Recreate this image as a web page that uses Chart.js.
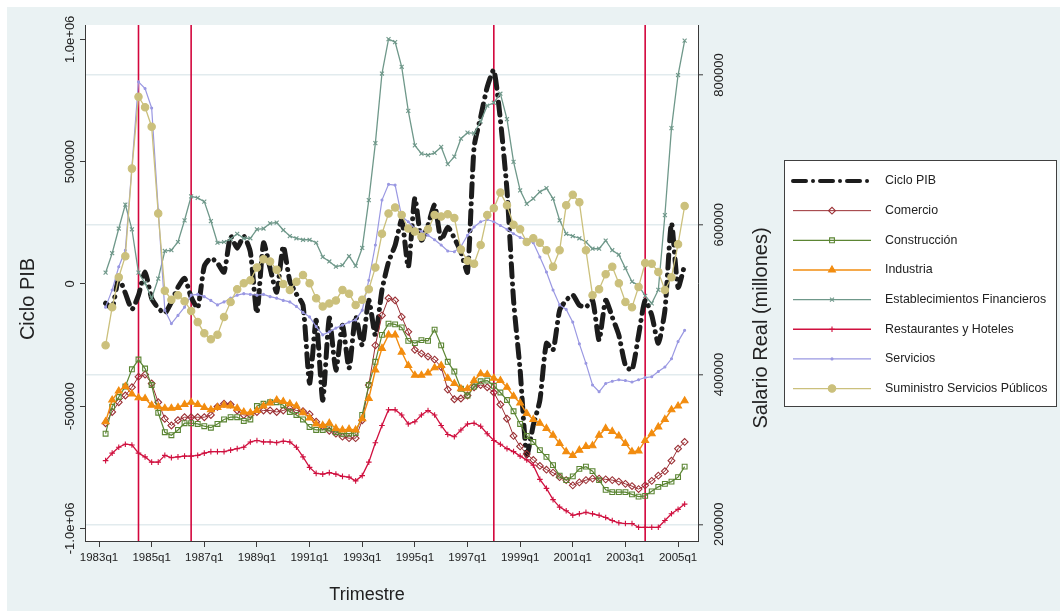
<!DOCTYPE html>
<html lang="es">
<head>
<meta charset="utf-8">
<title>Ciclo PIB y salario real por sector</title>
<script src="https://cdn.jsdelivr.net/npm/chart.js"></script>
<style>
html,body{margin:0;padding:0;background:#fff;}
#lienzo{display:block;}
</style>
</head>
<body>
<canvas id="lienzo" width="1060" height="611"></canvas>
<script>
// Trimestres 1983q2 - 2005q2
const todosTrimestres = [];
for (let a = 1983; a <= 2005; a++) for (let q = 1; q <= 4; q++) todosTrimestres.push(a + 'q' + q);
const trimestres = todosTrimestres.slice(1, 90);

// Marcas del eje horizontal y fechas señaladas con líneas verticales
const etiquetasX = ['1983q1','1985q1','1987q1','1989q1','1991q1','1993q1','1995q1','1997q1','1999q1','2001q1','2003q1','2005q1'];
const hitos = ['1984q3','1986q3','1998q1','2003q4'];

// Ejes verticales
const marcasPIB = [-1000000, -500000, 0, 500000, 1000000];
const etiquetasPIB = ['-1.0e+06', '-500000', '0', '500000', '1.0e+06'];
const marcasSalario = [200000, 400000, 600000, 800000];
const etiquetasSalario = ['200000', '400000', '600000', '800000'];

// Ciclo del PIB (eje izquierdo)
const cicloPIB = [
  -79000,-99000,23000,-38000,-104000,-46000,48000,-59000,-99000,-120000,
  -75000,-14000,23000,-54000,-99000,72000,105000,85000,48000,195000,
  146000,195000,130000,-120000,167000,64000,-34000,154000,11000,-42000,
  -87000,-406000,-149000,-476000,-140000,-353000,-169000,-345000,-132000,-251000,
  -67000,-210000,-26000,89000,158000,261000,68000,351000,179000,240000,
  322000,179000,232000,187000,130000,48000,559000,682000,805000,874000,
  670000,383000,-67000,-353000,-701000,-578000,-476000,-243000,-271000,-108000,
  -67000,-46000,-87000,-95000,-67000,-230000,-67000,-136000,-210000,-333000,
  -353000,-210000,-67000,-128000,-243000,-108000,248000,-14000,77000
];

// Salario real por sector, millones (eje derecho)
const comercio = [
  335000,350000,363000,372000,383000,397000,400000,388000,363000,341000,
  332000,339000,343000,343000,343000,343000,346000,357000,361000,360000,
  352000,346000,346000,350000,352000,352000,350000,352000,355000,352000,
  351000,347000,337000,331000,325000,321000,317000,315000,315000,339000,
  386000,439000,479000,502000,499000,477000,457000,433000,428000,424000,
  420000,410000,380000,367000,368000,372000,383000,386000,383000,376000,
  360000,341000,318000,304000,294000,286000,278000,273000,269000,263000,
  259000,252000,256000,259000,261000,261000,260000,259000,257000,254000,
  251000,247000,252000,258000,265000,271000,285000,301000,310000
];
const construccion = [
  321000,357000,370000,384000,407000,420000,408000,386000,349000,323000,
  319000,326000,335000,335000,334000,331000,329000,334000,340000,343000,
  343000,338000,340000,358000,361000,363000,363000,359000,350000,346000,
  340000,330000,326000,326000,328000,323000,321000,321000,322000,346000,
  386000,417000,453000,468000,467000,463000,445000,442000,446000,445000,
  460000,439000,417000,404000,381000,372000,384000,391000,392000,385000,
  376000,366000,351000,334000,318000,310000,299000,290000,279000,265000,
  259000,264000,274000,277000,271000,259000,246000,243000,243000,243000,
  240000,237000,238000,244000,250000,254000,257000,263000,277000
];
const industria = [
  337000,366000,378000,384000,374000,369000,368000,359000,357000,355000,
  355000,356000,360000,363000,360000,356000,353000,356000,359000,358000,
  355000,350000,349000,352000,358000,362000,366000,364000,361000,358000,
  349000,342000,334000,332000,335000,328000,326000,327000,326000,341000,
  368000,406000,435000,453000,453000,430000,412000,399000,399000,402000,
  409000,412000,395000,388000,381000,381000,392000,401000,400000,395000,
  392000,383000,371000,362000,348000,340000,335000,328000,319000,308000,
  297000,292000,299000,304000,305000,319000,328000,324000,318000,308000,
  297000,298000,312000,321000,330000,340000,353000,358000,365000
];
const financieros = [
  536000,562000,595000,627000,594000,536000,522000,502000,528000,565000,
  566000,577000,606000,638000,636000,631000,605000,576000,577000,581000,
  588000,582000,582000,594000,595000,602000,603000,593000,585000,582000,
  580000,580000,576000,557000,551000,544000,546000,558000,545000,569000,
  633000,709000,802000,848000,844000,811000,752000,706000,695000,693000,
  696000,704000,681000,691000,715000,723000,722000,738000,759000,763000,
  775000,741000,684000,646000,628000,635000,644000,649000,635000,606000,
  588000,585000,582000,577000,568000,568000,579000,566000,560000,542000,
  524000,519000,505000,495000,513000,613000,729000,800000,846000
];
const restaurantes = [
  285000,295000,303000,307000,306000,295000,290000,283000,283000,292000,
  289000,290000,291000,291000,292000,295000,297000,297000,297000,299000,
  301000,303000,310000,312000,310000,310000,309000,311000,310000,303000,
  290000,276000,268000,267000,269000,267000,264000,263000,258000,265000,
  283000,309000,332000,353000,353000,346000,334000,337000,346000,352000,
  346000,332000,320000,317000,326000,334000,335000,331000,321000,312000,
  307000,301000,297000,291000,286000,279000,260000,248000,233000,223000,
  218000,212000,214000,216000,214000,212000,209000,205000,202000,201000,
  201000,196000,196000,196000,196000,205000,214000,220000,227000
];
const servicios = [
  490000,513000,544000,566000,677000,791000,782000,756000,620000,486000,
  468000,479000,490000,506000,507000,504000,499000,493000,497000,502000,
  506000,508000,507000,506000,507000,504000,502000,499000,497000,491000,
  483000,477000,464000,453000,457000,462000,466000,470000,473000,486000,
  526000,573000,633000,654000,653000,611000,604000,595000,591000,586000,
  580000,573000,565000,564000,571000,586000,597000,604000,607000,604000,
  599000,594000,588000,583000,580000,576000,557000,537000,513000,493000,
  487000,470000,441000,415000,386000,377000,388000,391000,393000,392000,
  390000,393000,396000,397000,404000,410000,421000,444000,459000
];
const suministro = [
  439000,490000,530000,558000,675000,771000,757000,731000,615000,512000,
  500000,506000,498000,485000,470000,455000,447000,453000,477000,497000,
  514000,522000,526000,543000,554000,551000,540000,521000,513000,524000,
  533000,522000,502000,491000,495000,499000,513000,508000,493000,500000,
  514000,543000,588000,615000,623000,613000,595000,591000,584000,594000,
  613000,611000,614000,609000,567000,552000,548000,573000,613000,622000,
  643000,626000,600000,594000,577000,582000,576000,566000,544000,566000,
  626000,640000,630000,566000,506000,514000,534000,544000,522000,497000,
  490000,517000,549000,548000,537000,513000,530000,574000,625000
];

const fuente = '"Liberation Sans", Arial, Helvetica, sans-serif';
const tinta = '#222222';
const ejeColor = '#3a3a3a';

// posición numérica de un trimestre "AAAAqN" (0 = 1983q1)
function indice(t) {
  const a = parseInt(t.slice(0, 4), 10), q = parseInt(t.slice(5), 10);
  return (a - 1983) * 4 + (q - 1);
}
function puntos(valores) {
  return valores.map((v, k) => ({ x: indice(trimestres[k]), y: v }));
}

function serie(nombre, valores, eje, color, estilo, radio, relleno, grosor, orden) {
  return {
    label: nombre, data: puntos(valores), yAxisID: eje,
    borderColor: color, borderWidth: grosor, tension: 0,
    pointStyle: estilo, pointRadius: radio, pointBorderColor: color,
    pointBackgroundColor: relleno, pointBorderWidth: 1.1, order: orden
  };
}

const conjuntos = [
  {
    label: 'Ciclo PIB', data: puntos(cicloPIB), yAxisID: 'yPIB',
    borderColor: '#1c1c1c', borderWidth: 5, borderDash: [13, 7, 0.01, 7],
    borderCapStyle: 'round', borderJoinStyle: 'round', tension: 0.2,
    pointRadius: 0, order: 8
  },
  serie('Comercio', comercio, 'ySal', '#9b3035', 'rectRot', 3.4, 'rgba(255,255,255,0)', 1, 7),
  serie('Construcción', construccion, 'ySal', '#5b8533', 'rect', 3.4, 'rgba(255,255,255,0)', 1.2, 6),
  serie('Industria', industria, 'ySal', '#f28c0f', 'triangle', 4, '#f28c0f', 1.4, 5),
  serie('Establecimientos Financieros', financieros, 'ySal', '#6f988a', 'crossRot', 2.8, '#6f988a', 1.3, 4),
  serie('Restaurantes y Hoteles', restaurantes, 'ySal', '#d0103f', 'cross', 2.8, '#d0103f', 1.3, 3),
  serie('Servicios', servicios, 'ySal', '#9a98e2', 'circle', 1, '#9a98e2', 1.2, 2),
  serie('Suministro Servicios Públicos', suministro, 'ySal', '#cbc07c', 'circle', 3.7, '#cbc07c', 1.3, 1)
];

// Fondo de la figura y del área de trazado
const fondo = {
  id: 'fondo',
  beforeDraw(chart) {
    const { ctx, chartArea: a } = chart;
    ctx.save();
    ctx.fillStyle = '#ffffff';
    ctx.fillRect(0, 0, chart.width, chart.height);
    ctx.fillStyle = '#eaf2f3';
    ctx.fillRect(7, 7, chart.width - 7, chart.height - 7);
    ctx.fillStyle = '#ffffff';
    ctx.fillRect(a.left, a.top, a.right - a.left, a.bottom - a.top);
    ctx.restore();
  }
};

// Líneas verticales en las fechas señaladas
const lineasHito = {
  id: 'lineasHito',
  beforeDatasetsDraw(chart) {
    const { ctx, chartArea: a, scales } = chart;
    ctx.save();
    ctx.strokeStyle = '#d3063c';
    ctx.lineWidth = 1.6;
    hitos.forEach(t => {
      const px = scales.x.getPixelForValue(indice(t));
      ctx.beginPath();
      ctx.moveTo(px, a.top);
      ctx.lineTo(px, a.bottom);
      ctx.stroke();
    });
    ctx.restore();
  }
};

function vertical(ctx, texto, x, y) {
  ctx.save();
  ctx.translate(x, y);
  ctx.rotate(-Math.PI / 2);
  ctx.fillText(texto, 0, 0);
  ctx.restore();
}

function marcador(ctx, estilo, x, y, r, borde, relleno, grosor) {
  ctx.save();
  ctx.strokeStyle = borde;
  ctx.fillStyle = relleno;
  ctx.lineWidth = grosor;
  ctx.setLineDash([]);
  ctx.beginPath();
  if (estilo === 'rectRot') {
    ctx.moveTo(x - r, y); ctx.lineTo(x, y - r); ctx.lineTo(x + r, y); ctx.lineTo(x, y + r); ctx.closePath();
    ctx.fill(); ctx.stroke();
  } else if (estilo === 'rect') {
    const s = r * Math.SQRT1_2;
    ctx.rect(x - s, y - s, 2 * s, 2 * s);
    ctx.fill(); ctx.stroke();
  } else if (estilo === 'triangle') {
    for (let k = 0; k < 3; k++) {
      const ang = k * 2 * Math.PI / 3;
      const px = x + Math.sin(ang) * r, py = y - Math.cos(ang) * r;
      if (k === 0) ctx.moveTo(px, py); else ctx.lineTo(px, py);
    }
    ctx.closePath();
    ctx.fill(); ctx.stroke();
  } else if (estilo === 'crossRot') {
    const d = r * Math.SQRT1_2;
    ctx.moveTo(x - d, y - d); ctx.lineTo(x + d, y + d);
    ctx.moveTo(x + d, y - d); ctx.lineTo(x - d, y + d);
    ctx.stroke();
  } else if (estilo === 'cross') {
    ctx.moveTo(x, y - r); ctx.lineTo(x, y + r);
    ctx.moveTo(x - r, y); ctx.lineTo(x + r, y);
    ctx.stroke();
  } else {
    ctx.arc(x, y, r, 0, 2 * Math.PI);
    ctx.fill(); ctx.stroke();
  }
  ctx.restore();
}

// Rótulos de ejes, títulos y leyenda
const rotulos = {
  id: 'rotulos',
  afterDraw(chart) {
    const ctx = chart.ctx;
    const yP = chart.scales.yPIB, yS = chart.scales.ySal;
    ctx.save();
    ctx.fillStyle = tinta;
    ctx.textAlign = 'center';
    ctx.textBaseline = 'middle';
    ctx.font = '13px ' + fuente;
    marcasPIB.forEach((v, k) => vertical(ctx, etiquetasPIB[k], 70, yP.getPixelForValue(v)));
    marcasSalario.forEach((v, k) => vertical(ctx, etiquetasSalario[k], 719, yS.getPixelForValue(v)));
    ctx.font = '20px ' + fuente;
    vertical(ctx, 'Ciclo PIB', 28, 299);
    vertical(ctx, 'Salario Real (millones)', 761, 328);
    ctx.font = '18px ' + fuente;
    ctx.fillText('Trimestre', 367, 595);

    // leyenda
    const caja = { x: 784, y: 160, w: 273, h: 247 };
    ctx.fillStyle = '#ffffff';
    ctx.fillRect(caja.x, caja.y, caja.w, caja.h);
    ctx.strokeStyle = '#404040';
    ctx.lineWidth = 1;
    ctx.strokeRect(caja.x + 0.5, caja.y + 0.5, caja.w - 1, caja.h - 1);
    ctx.textAlign = 'left';
    ctx.font = '12.4px ' + fuente;
    conjuntos.forEach((d, k) => {
      const yy = 181 + k * 29.65;
      ctx.save();
      ctx.strokeStyle = d.borderColor;
      ctx.lineWidth = d.borderDash ? 4 : d.borderWidth;
      if (d.borderDash) {
        ctx.setLineDash(d.borderDash);
        ctx.lineCap = 'round';
      }
      ctx.beginPath();
      ctx.moveTo(793, yy);
      ctx.lineTo(871, yy);
      ctx.stroke();
      ctx.restore();
      if (d.pointRadius > 0) {
        marcador(ctx, d.pointStyle, 832, yy, d.pointRadius, d.pointBorderColor, d.pointBackgroundColor, d.pointBorderWidth);
      }
      ctx.fillStyle = tinta;
      ctx.fillText(d.label, 885, yy);
    });
    ctx.restore();
  }
};

new Chart(document.getElementById('lienzo'), {
  type: 'line',
  data: { datasets: conjuntos },
  plugins: [fondo, lineasHito, rotulos],
  options: {
    responsive: false,
    animation: false,
    devicePixelRatio: 1,
    events: [],
    layout: { padding: { top: 25, left: 0, right: 0, bottom: 0 } },
    plugins: { legend: { display: false }, tooltip: { enabled: false } },
    elements: { line: { fill: false } },
    scales: {
      x: {
        type: 'linear', position: 'bottom', min: -2.13, max: 91.03,
        afterBuildTicks: s => { s.ticks = etiquetasX.map(t => ({ value: indice(t) })); },
        afterFit: s => { s.height = 70; },
        ticks: {
          autoSkip: false, maxRotation: 0, minRotation: 0, padding: 4, color: tinta,
          font: { family: fuente, size: 11.5 },
          callback: (v, k) => etiquetasX[k]
        },
        grid: { drawOnChartArea: false, drawTicks: true, tickLength: 6, color: ejeColor, tickColor: ejeColor },
        border: { display: true, color: ejeColor, width: 1 }
      },
      yPIB: {
        type: 'linear', position: 'left', min: -1051600, max: 1058600,
        afterBuildTicks: s => { s.ticks = marcasPIB.map(v => ({ value: v })); },
        afterFit: s => { s.width = 85; },
        ticks: { display: false },
        grid: { drawOnChartArea: false, drawTicks: true, tickLength: 5, color: ejeColor, tickColor: ejeColor },
        border: { display: true, color: ejeColor, width: 1 }
      },
      ySal: {
        type: 'linear', position: 'right', min: 177700, max: 866800,
        afterBuildTicks: s => { s.ticks = marcasSalario.map(v => ({ value: v })); },
        afterFit: s => { s.width = 362; },
        ticks: { display: false },
        grid: { drawOnChartArea: true, drawTicks: true, tickLength: 5, color: '#e2ebee', lineWidth: 1.6, tickColor: ejeColor, tickWidth: 1 },
        border: { display: true, color: ejeColor, width: 1 }
      }
    }
  }
});
</script>
</body>
</html>
